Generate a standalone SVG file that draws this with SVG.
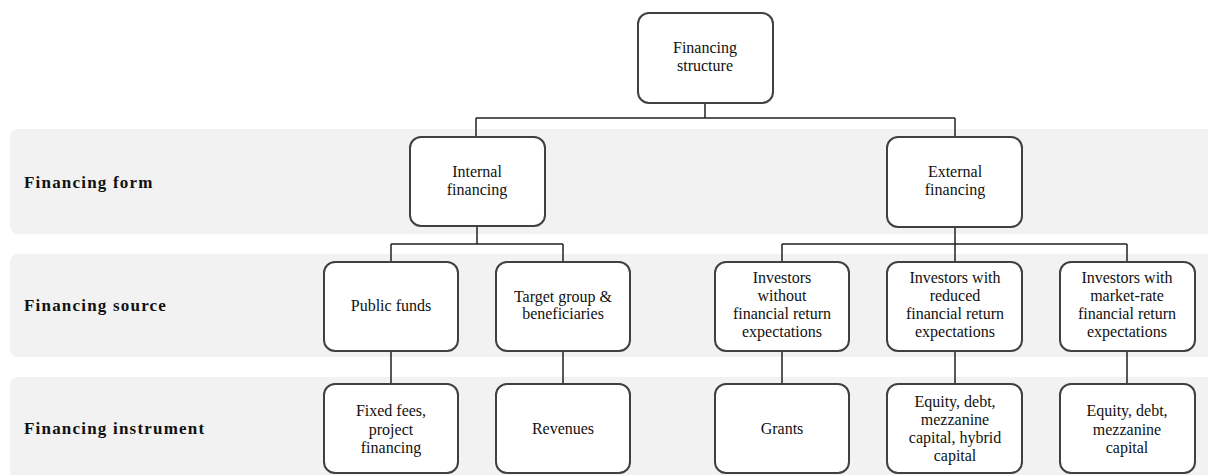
<svg xmlns="http://www.w3.org/2000/svg" width="1208" height="475" viewBox="0 0 1208 475">
<style>
.band{fill:#f2f2f2}
.box{fill:#fff;stroke:#404040;stroke-width:2}
.t{font-family:"Liberation Serif","Times New Roman",serif;font-size:16px;fill:#111;text-anchor:middle}
.lab{font-family:"Liberation Serif","Times New Roman",serif;font-size:17px;font-weight:bold;fill:#111;letter-spacing:1.2px}
.c{stroke:#222;stroke-width:1.5;fill:none}
</style>
<rect width="1208" height="475" fill="#fff"/>
<g id="bands">
<rect class="band" x="10" y="129" width="1210" height="105" rx="8"/>
<rect class="band" x="10" y="254" width="1210" height="103" rx="8"/>
<rect class="band" x="10" y="377" width="1210" height="110" rx="8"/>
<text class="lab" x="24" y="188">Financing form</text>
<text class="lab" x="24" y="311">Financing source</text>
<text class="lab" x="24" y="434">Financing instrument</text>
</g>
<g id="connectors">
<path class="c" d="M705 103V118M476 118H955M476 118V137M955 118V137"/>
<path class="c" d="M477 226V244M391 244H563M391 244V262M563 244V262"/>
<path class="c" d="M955 227V244" stroke-width="2.5"/>
<path class="c" d="M782 244H1127M782 244V262M955 244V262M1127 244V262"/>
<path class="c" d="M391 351V384M563 351V384M782 351V384M955 351V384M1127 351V384"/>
</g>
<g id="n-structure"><rect class="box" x="638" y="13" width="135" height="90" rx="11"/>
<text class="t" x="705" y="53">Financing</text><text class="t" x="705" y="71">structure</text></g>
<g id="n-internal"><rect class="box" x="410" y="137" width="135" height="89" rx="11"/>
<text class="t" x="477" y="177">Internal</text><text class="t" x="477" y="195">financing</text></g>
<g id="n-external"><rect class="box" x="887" y="137" width="135" height="90" rx="11"/>
<text class="t" x="955" y="177">External</text><text class="t" x="955" y="195">financing</text></g>
<g id="n-public"><rect class="box" x="324" y="262" width="134" height="89" rx="11"/>
<text class="t" x="391" y="311">Public funds</text></g>
<g id="n-target"><rect class="box" x="496" y="262" width="134" height="89" rx="11"/>
<text class="t" x="563" y="302">Target group &amp;</text><text class="t" x="563" y="319">beneficiaries</text></g>
<g id="n-inv1"><rect class="box" x="715" y="262" width="134" height="89" rx="11"/>
<text class="t" x="782" y="283">Investors</text><text class="t" x="782" y="301">without</text><text class="t" x="782" y="319">financial  return</text><text class="t" x="782" y="337">expectations</text></g>
<g id="n-inv2"><rect class="box" x="887" y="262" width="135" height="89" rx="11"/>
<text class="t" x="955" y="283">Investors with</text><text class="t" x="955" y="301">reduced</text><text class="t" x="955" y="319">financial  return</text><text class="t" x="955" y="337">expectations</text></g>
<g id="n-inv3"><rect class="box" x="1060" y="262" width="135" height="89" rx="11"/>
<text class="t" x="1127" y="283">Investors with</text><text class="t" x="1127" y="301">market-rate</text><text class="t" x="1127" y="319">financial  return</text><text class="t" x="1127" y="337">expectations</text></g>
<g id="n-fixed"><rect class="box" x="324" y="384" width="134" height="89" rx="11"/>
<text class="t" x="391" y="416">Fixed fees,</text><text class="t" x="391" y="435">project</text><text class="t" x="391" y="453">financing</text></g>
<g id="n-revenues"><rect class="box" x="496" y="384" width="134" height="89" rx="11"/>
<text class="t" x="563" y="434">Revenues</text></g>
<g id="n-grants"><rect class="box" x="715" y="384" width="134" height="89" rx="11"/>
<text class="t" x="782" y="434">Grants</text></g>
<g id="n-equity1"><rect class="box" x="887" y="384" width="135" height="89" rx="11"/>
<text class="t" x="955" y="407">Equity, debt,</text><text class="t" x="955" y="425">mezzanine</text><text class="t" x="955" y="443">capital, hybrid</text><text class="t" x="955" y="461">capital</text></g>
<g id="n-equity2"><rect class="box" x="1060" y="384" width="135" height="89" rx="11"/>
<text class="t" x="1127" y="416">Equity, debt,</text><text class="t" x="1127" y="435">mezzanine</text><text class="t" x="1127" y="453">capital</text></g>
</svg>
